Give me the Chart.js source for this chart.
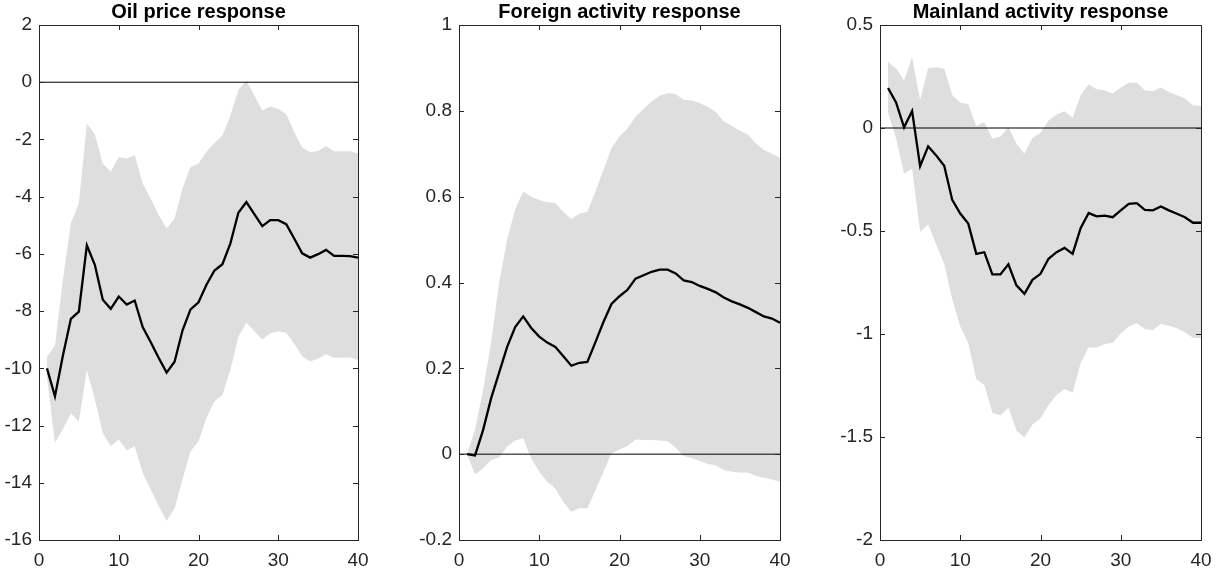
<!DOCTYPE html>
<html lang="en">

<head>
    <meta charset="UTF-8">
    <title>Impulse responses</title>
    <script src="https://cdn.jsdelivr.net/npm/chart.js"></script>

    <style>
        body {
            margin: 0;
            background: #fff;
        }

        .wrap {
            position: relative;
            width: 1225px;
            height: 574px;
        }

        .wrap canvas {
            position: absolute;
            top: 0;
        }
    </style>
</head>

<body>
    <div class="wrap">
        <canvas id="oil" width="378" height="574" style="left:0px"></canvas>
        <canvas id="foreign" width="400" height="574" style="left:400px"></canvas>
        <canvas id="mainland" width="405" height="574" style="left:820px"></canvas>
    </div>

    <script>
        const steps = Array.from({ length: 40 }, (e, i) => i + 1);
        const xTicks = [0, 10, 20, 30, 40];

        // oil price response (mean and band)
        const oilMean = [-10.0, -10.98, -9.55, -8.27, -8.02, -5.7, -6.38, -7.6, -7.92, -7.49,
            -7.77, -7.63, -8.56, -9.08, -9.63, -10.15, -9.77, -8.67, -7.94, -7.69,
            -7.08, -6.58, -6.36, -5.63, -4.56, -4.19, -4.61, -5.03, -4.82, -4.82,
            -4.96, -5.46, -5.98, -6.13, -6.01, -5.86, -6.07, -6.07, -6.08, -6.13];
        const oilUpper = [-9.6, -9.2, -6.9, -4.92, -4.23, -1.44, -1.82, -2.84, -3.13, -2.61,
            -2.67, -2.55, -3.54, -4.06, -4.64, -5.1, -4.76, -3.71, -2.96, -2.84,
            -2.43, -2.12, -1.86, -1.16, -0.27, 0.06, -0.46, -0.99, -0.85, -0.93,
            -1.12, -1.74, -2.28, -2.45, -2.4, -2.23, -2.41, -2.41, -2.41, -2.49];
        const oilLower = [-10.3, -12.6, -12.12, -11.57, -11.86, -10.06, -11.08, -12.26, -12.72, -12.49,
            -12.86, -12.72, -13.65, -14.23, -14.81, -15.33, -14.9, -13.88, -12.9, -12.55,
            -11.74, -11.16, -10.93, -10.06, -8.9, -8.4, -8.7, -8.99, -8.77, -8.7,
            -8.76, -9.14, -9.58, -9.76, -9.66, -9.51, -9.63, -9.63, -9.62, -9.71];

        // foreign activity response
        const foreignMean = [0, -0.003, 0.056, 0.13, 0.19, 0.25, 0.296, 0.321, 0.294, 0.274,
            0.26, 0.25, 0.228, 0.206, 0.213, 0.215, 0.261, 0.308, 0.35, 0.368,
            0.383, 0.409, 0.417, 0.425, 0.43, 0.43, 0.421, 0.405, 0.401, 0.392,
            0.385, 0.377, 0.365, 0.356, 0.349, 0.341, 0.331, 0.321, 0.316, 0.306];
        const foreignUpper = [0.0, 0.057, 0.15, 0.26, 0.4, 0.5, 0.57, 0.612, 0.6, 0.592,
            0.587, 0.585, 0.565, 0.548, 0.56, 0.565, 0.612, 0.662, 0.713, 0.74,
            0.759, 0.787, 0.804, 0.822, 0.835, 0.841, 0.839, 0.826, 0.824, 0.818,
            0.809, 0.798, 0.775, 0.765, 0.754, 0.744, 0.724, 0.709, 0.7, 0.69];
        const foreignLower = [0, -0.047, -0.033, -0.014, -0.008, 0.018, 0.032, 0.037, -0.01, -0.041,
            -0.064, -0.08, -0.111, -0.134, -0.126, -0.126, -0.084, -0.041, 0.002, 0.011,
            0.019, 0.034, 0.033, 0.033, 0.032, 0.03, 0.015, -0.004, -0.009, -0.016,
            -0.023, -0.026, -0.037, -0.041, -0.043, -0.043, -0.051, -0.055, -0.059, -0.064];

        // mainland activity response
        const mainMean = [0.194, 0.124, 0.003, 0.082, -0.185, -0.089, -0.133, -0.183, -0.349, -0.415,
            -0.464, -0.611, -0.603, -0.711, -0.711, -0.662, -0.764, -0.805, -0.737, -0.708,
            -0.635, -0.603, -0.582, -0.611, -0.486, -0.413, -0.429, -0.425, -0.433, -0.4,
            -0.368, -0.365, -0.397, -0.4, -0.381, -0.4, -0.416, -0.433, -0.46, -0.46];
        const mainUpper = [0.32, 0.29, 0.231, 0.345, 0.136, 0.29, 0.295, 0.288, 0.16, 0.123,
            0.117, 0.008, 0.029, -0.052, -0.041, 0.005, -0.076, -0.125, -0.047, -0.024,
            0.037, 0.066, 0.081, 0.05, 0.159, 0.211, 0.188, 0.183, 0.167, 0.196,
            0.22, 0.22, 0.183, 0.178, 0.196, 0.175, 0.159, 0.143, 0.11, 0.107];
        const mainLower = [0.074, -0.05, -0.222, -0.197, -0.505, -0.468, -0.565, -0.66, -0.83, -0.964,
            -1.045, -1.22, -1.248, -1.382, -1.394, -1.358, -1.469, -1.502, -1.439, -1.409,
            -1.345, -1.296, -1.267, -1.285, -1.142, -1.066, -1.066, -1.049, -1.042, -0.997,
            -0.964, -0.948, -0.976, -0.981, -0.951, -0.96, -0.972, -0.992, -1.018, -1.021];

        const axisColor = '#262626';
        const bandColor = '#dedede';
        Chart.defaults.font.family = '"Liberation Sans", Arial, sans-serif';
        Chart.defaults.color = axisColor;

        const toPts = arr => arr.map((v, i) => ({ x: steps[i], y: v }));

        // box + inward ticks on all four sides, like the matlab look
        const boxPlugin = {
            id: 'box',
            afterDraw(chart) {
                const { ctx, chartArea: a, scales } = chart;
                const len = 5;
                ctx.save();
                ctx.strokeStyle = axisColor;
                ctx.lineWidth = 1;
                ctx.beginPath();
                scales.x.ticks.forEach(t => {
                    const px = Math.round(scales.x.getPixelForValue(t.value)) + 0.5;
                    ctx.moveTo(px, a.bottom); ctx.lineTo(px, a.bottom - len);
                    ctx.moveTo(px, a.top); ctx.lineTo(px, a.top + len);
                });
                scales.y.ticks.forEach(t => {
                    const py = Math.round(scales.y.getPixelForValue(t.value)) + 0.5;
                    ctx.moveTo(a.left, py); ctx.lineTo(a.left + len, py);
                    ctx.moveTo(a.right, py); ctx.lineTo(a.right - len, py);
                });
                ctx.stroke();
                ctx.strokeRect(Math.round(a.left) + 0.5, Math.round(a.top) + 0.5,
                    Math.round(a.right - a.left), Math.round(a.bottom - a.top));
                ctx.restore();
            }
        };

        const makePanel = (id, title, mean, upper, lower, yMin, yMax, yStep, yWidth, padRight) => {
            const ctx = document.getElementById(id).getContext('2d');
            return new Chart(ctx, {
                type: 'line',
                data: {
                    datasets: [{
                        data: toPts(mean),
                        borderColor: '#000',
                        borderWidth: 2.3,
                        pointRadius: 0,
                        fill: false
                    }, {
                        data: [{ x: 0, y: 0 }, { x: 40, y: 0 }],
                        borderColor: '#000',
                        borderWidth: 1,
                        pointRadius: 0,
                        fill: false
                    }, {
                        data: toPts(lower),
                        borderWidth: 0,
                        borderColor: 'rgba(0,0,0,0)',
                        pointRadius: 0,
                        fill: false
                    }, {
                        data: toPts(upper),
                        borderWidth: 0,
                        borderColor: 'rgba(0,0,0,0)',
                        backgroundColor: bandColor,
                        pointRadius: 0,
                        fill: '-1'
                    }]
                },
                options: {
                    responsive: false,
                    animation: false,
                    devicePixelRatio: 1,
                    layout: { padding: { top: 0, right: padRight, bottom: 0, left: 0 } },
                    plugins: {
                        legend: { display: false },
                        tooltip: { enabled: false },
                        title: {
                            display: true,
                            fullSize: false, // centre over the plot box, not the canvas
                            text: title,
                            color: '#000',
                            font: { size: 20, weight: 'bold' },
                            padding: { top: 0, bottom: 1 }
                        }
                    },
                    scales: {
                        x: {
                            type: 'linear',
                            min: 0,
                            max: 40,
                            afterBuildTicks: s => { s.ticks = xTicks.map(v => ({ value: v })); },
                            afterFit: s => { s.height = 34; },
                            grid: { display: false, drawTicks: false },
                            border: { display: false },
                            ticks: { font: { size: 19 }, padding: 9, maxRotation: 0 }
                        },
                        y: {
                            min: yMin,
                            max: yMax,
                            afterFit: s => { s.width = yWidth; },
                            grid: { display: false, drawTicks: false },
                            border: { display: false },
                            ticks: {
                                stepSize: yStep,
                                font: { size: 19 },
                                padding: 7,
                                callback: v => String(+v.toFixed(2))
                            }
                        }
                    }
                },
                plugins: [boxPlugin]
            });
        };

        makePanel('oil', 'Oil price response', oilMean, oilUpper, oilLower, -16, 2, 2, 39, 20);
        makePanel('foreign', 'Foreign activity response', foreignMean, foreignUpper, foreignLower, -0.2, 1, 0.2, 59, 20);
        makePanel('mainland', 'Mainland activity response', mainMean, mainUpper, mainLower, -2, 0.5, 0.5, 60, 24);
    </script>
</body>

</html>
